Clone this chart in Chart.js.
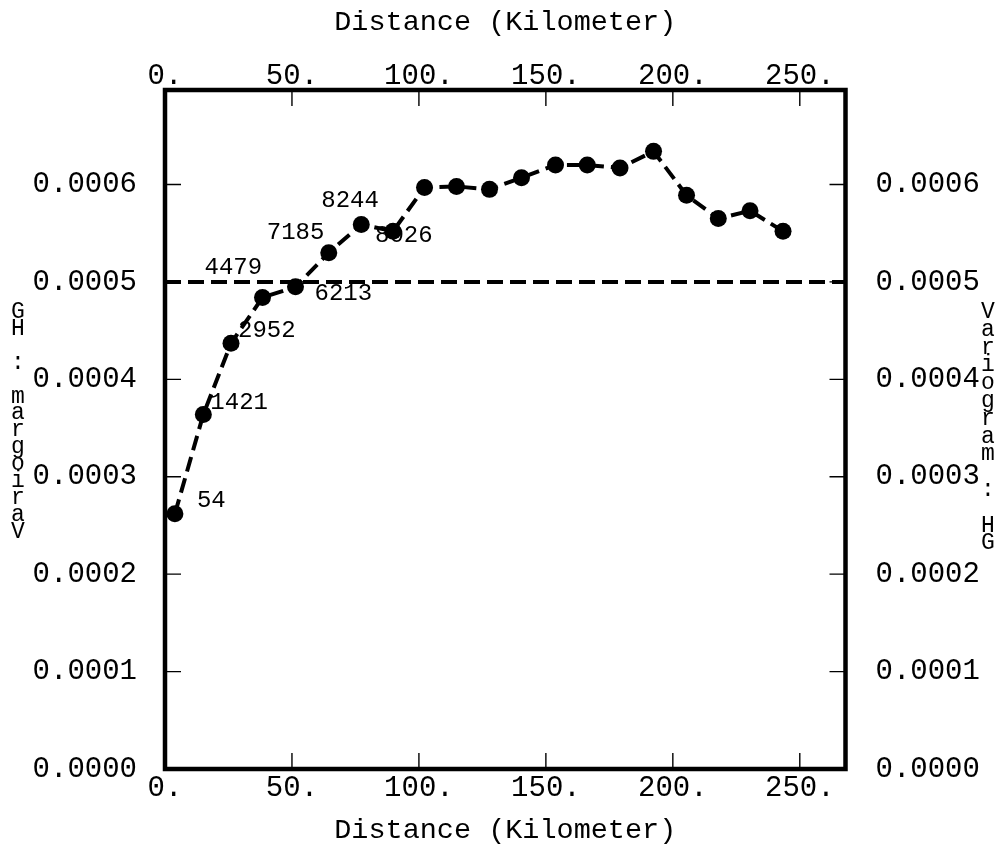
<!DOCTYPE html>
<html>
<head>
<meta charset="utf-8">
<script src="https://cdn.jsdelivr.net/npm/chart.js@4.4.1/dist/chart.umd.min.js"></script>
<style>
  html, body { margin: 0; padding: 0; background: #fff; }
  #wrap { width: 1002px; height: 851px; }
</style>
</head>
<body>
<div id="wrap"><canvas id="variogramChart" width="1002" height="851"></canvas></div>
<script>
// Experimental variogram values (lag distance in km)
const lagDistance = [3.9, 15.1, 26.0, 38.4, 51.4, 64.5, 77.3, 89.8, 102.2, 114.8,
  127.8, 140.4, 153.8, 166.3, 179.2, 192.4, 205.4, 217.9, 230.4, 243.4];
const variogramValue = [0.000262, 0.000364, 0.000437, 0.000484, 0.000495, 0.00053,
  0.000559, 0.000552, 0.000597, 0.000598, 0.000595, 0.000607, 0.00062, 0.00062,
  0.000617, 0.000634, 0.000589, 0.000565, 0.000573, 0.000552];
// Number of pairs, shown for the first lags only
const pairCounts = ["54", "1421", "2952", "4479", "6213", "7185", "8244", "8026"];

// Sill reference line
const sillDistance = [0, 268];
const sillValue = [0.0005, 0.0005];

// Axis ticks and titles
const xTickValues = [0, 50, 100, 150, 200, 250];
const yTickValues = [0, 0.0001, 0.0002, 0.0003, 0.0004, 0.0005, 0.0006];
const xAxisTitle = "Distance (Kilometer)";
const yAxisTitle = "Variogram : HG";

// label placement relative to its point (px)
const pairLabelOffsets = [[22, -13], [7, -12], [7, -13], [-58, -30], [19, 7],
  [-62, -20], [-40, -24], [-18, 4]];

const FONT = "'Liberation Mono', 'Courier New', monospace";
const tickFont = { family: FONT, size: 29 };
const titleFont = { family: FONT, size: 28.5 };

function setTicks(values) {
  return (scale) => {
    scale.ticks = values.map((v) => ({ value: v }));
  };
}

// Inward tick marks and the heavy frame
const frameAndTicks = {
  id: "frameAndTicks",
  afterDatasetsDraw(chart) {
    const { ctx, chartArea: a, scales } = chart;
    const len = 16;
    ctx.save();
    ctx.strokeStyle = "#000";
    ctx.lineWidth = 1.4;
    ctx.beginPath();
    xTickValues.forEach((v) => {
      const px = scales.x.getPixelForValue(v);
      ctx.moveTo(px, a.bottom);
      ctx.lineTo(px, a.bottom - len);
      ctx.moveTo(px, a.top);
      ctx.lineTo(px, a.top + len);
    });
    yTickValues.forEach((v) => {
      const py = scales.y.getPixelForValue(v);
      ctx.moveTo(a.left, py);
      ctx.lineTo(a.left + len, py);
      ctx.moveTo(a.right, py);
      ctx.lineTo(a.right - len, py);
    });
    ctx.stroke();
    ctx.lineWidth = 4.5;
    ctx.strokeRect(a.left, a.top, a.right - a.left, a.bottom - a.top);
    ctx.restore();
  },
};

// Pair counts next to the points (drawn under the line)
const pairLabels = {
  id: "pairLabels",
  beforeDatasetsDraw(chart) {
    const { ctx, scales } = chart;
    ctx.save();
    ctx.fillStyle = "#000";
    ctx.font = "24px " + FONT;
    ctx.textAlign = "left";
    ctx.textBaseline = "middle";
    pairCounts.forEach((txt, i) => {
      const px = scales.x.getPixelForValue(lagDistance[i]);
      const py = scales.y.getPixelForValue(variogramValue[i]);
      ctx.fillText(txt, px + pairLabelOffsets[i][0], py + pairLabelOffsets[i][1]);
    });
    ctx.restore();
  },
};

// Stacked-letter y titles on both sides
const stackedTitles = {
  id: "stackedTitles",
  afterDraw(chart) {
    const { ctx } = chart;
    ctx.save();
    ctx.fillStyle = "#000";
    ctx.font = "23px " + FONT;
    ctx.textAlign = "center";
    ctx.textBaseline = "middle";
    const leftChars = yAxisTitle.split("").reverse();
    leftChars.forEach((c, i) => {
      if (c !== " ") ctx.fillText(c, 18, 312 + i * 16.9);
    });
    yAxisTitle.split("").forEach((c, i) => {
      if (c !== " ") ctx.fillText(c, 988, 312 + i * 17.8);
    });
    ctx.restore();
  },
};

const xCommon = {
  type: "linear",
  min: 0,
  max: 268,
  afterBuildTicks: setTicks(xTickValues),
  ticks: {
    callback: (v) => v + ".",
    font: tickFont,
    color: "#000",
    maxRotation: 0,
    autoSkip: false,
    padding: 4,
  },
  grid: { display: false, drawTicks: false },
  border: { display: false },
};

const yCommon = {
  type: "linear",
  min: 0,
  max: 0.000697,
  afterBuildTicks: setTicks(yTickValues),
  ticks: {
    callback: (v) => v.toFixed(4),
    font: tickFont,
    color: "#000",
    autoSkip: false,
  },
  grid: { display: false, drawTicks: false },
  border: { display: false },
};

const ctx = document.getElementById("variogramChart").getContext("2d");
new Chart(ctx, {
  type: "line",
  data: {
    datasets: [
      {
        label: "Variogram",
        data: lagDistance.map((d, i) => ({ x: d, y: variogramValue[i] })),
        xAxisID: "x",
        yAxisID: "y",
        borderColor: "#000",
        borderWidth: 4,
        borderDash: [15, 7],
        backgroundColor: "#000",
        pointBackgroundColor: "#000",
        pointBorderWidth: 0,
        pointRadius: 8.5,
        tension: 0,
        fill: false,
      },
      {
        label: "Sill",
        data: sillDistance.map((d, i) => ({ x: d, y: sillValue[i] })),
        xAxisID: "x",
        yAxisID: "y",
        borderColor: "#000",
        borderWidth: 4,
        borderDash: [16, 7],
        pointRadius: 0,
        fill: false,
      },
    ],
  },
  options: {
    responsive: false,
    animation: false,
    devicePixelRatio: 1,
    layout: { padding: 0 },
    plugins: {
      legend: { display: false },
      tooltip: { enabled: false },
    },
    scales: {
      x: {
        ...xCommon,
        position: "bottom",
        ticks: { ...xCommon.ticks, padding: 2 },
        title: {
          display: true,
          text: xAxisTitle,
          font: titleFont,
          color: "#000",
          padding: { top: 0, bottom: 3 },
        },
        afterFit: (s) => { s.height = 82; },
      },
      x2: {
        ...xCommon,
        position: "top",
        ticks: { ...xCommon.ticks, padding: -4 },
        title: {
          display: true,
          text: xAxisTitle,
          font: titleFont,
          color: "#000",
          padding: { top: 5, bottom: 0 },
        },
        afterFit: (s) => { s.height = 90; },
      },
      y: {
        ...yCommon,
        position: "left",
        ticks: { ...yCommon.ticks, padding: 28 },
        afterFit: (s) => { s.width = 165; },
      },
      y2: {
        ...yCommon,
        position: "right",
        ticks: { ...yCommon.ticks, padding: 30 },
        afterFit: (s) => { s.width = 156.5; },
      },
    },
  },
  plugins: [pairLabels, frameAndTicks, stackedTitles],
});
</script>
</body>
</html>
